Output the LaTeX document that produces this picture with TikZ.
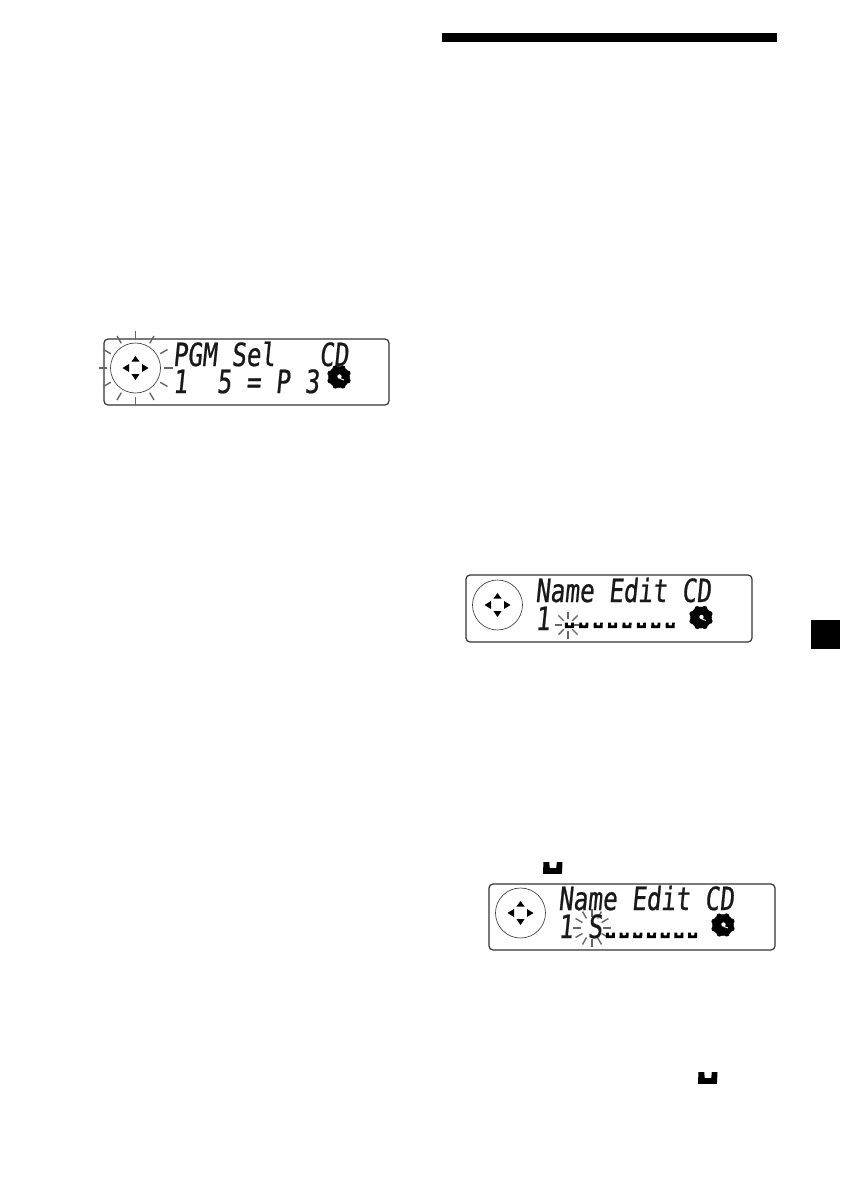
\documentclass[tikz,border=0pt]{standalone}
\usepackage{fontspec}
\newfontfamily\lcd[FakeSlant=0.1,FakeStretch=0.76,FakeBold=0.6]{DejaVu Sans Mono}
\newdimen\pxu \pxu=0.75pt
\tikzset{
  panel/.style={draw=black!80,line width=0.9pt,rounded corners=3pt},
  dial/.style={circle,draw=black!75,line width=0.5pt,minimum size=50\pxu,inner sep=0pt},
  lcdtext/.style={inner sep=0pt,anchor=base west,font=\lcd\fontsize{24}{24}\selectfont,text=black!90},
  ray/.style={draw=black!60,line width=1.05pt},
  arrowtip/.style={fill=black},
}
% dial with four arrow heads
\newcommand{\dialat}[2]{%
  \node[dial] at (#1,#2) {};
  \fill[arrowtip] (#1,#2-12) -- (#1+4,#2-6.5) -- (#1-4,#2-6.5) -- cycle;
  \fill[arrowtip] (#1,#2+12) -- (#1+4,#2+6) -- (#1-4,#2+6) -- cycle;
  \fill[arrowtip] (#1-13,#2) -- (#1-6.5,#2-4) -- (#1-6.5,#2+4) -- cycle;
  \fill[arrowtip] (#1+13,#2) -- (#1+6.5,#2-4) -- (#1+6.5,#2+4) -- cycle;
}
% compact disc glyph
\newcommand{\discat}[2]{%
  \foreach \a in {0,45,...,315}{\fill[black] (#1,#2)++(\a+22:9.5) circle (2.8);}
  \fill[black] (#1,#2) circle (10.8);
  \fill[white] (#1,#2) ++(0.5,-0.5) circle (2.2);
  \draw[white,line width=0.7pt] (#1+1,#2+1.5) -- (#1+5,#2+3);
}
% space glyph
\newcommand{\blankat}[3]{%
  \fill[black] (#1,#2) -- (#1+#3*0.3,#2) -- (#1+#3*0.33,#2+#3*0.32) -- (#1+#3*0.67,#2+#3*0.32) -- (#1+#3*0.7,#2) -- (#1+#3,#2) -- (#1+#3*0.97,#2+#3*0.62) -- (#1-#3*0.03,#2+#3*0.62) -- cycle;
}
% blinking rays: centre x, y, inner radius, outer radius, step
\newcommand{\raysat}[5]{%
  \foreach \a in {0,#5,...,359}{\draw[ray] (#1,#2)++(\a:#3) -- ++(\a:#4-#3);}
}
\begin{document}
\begin{tikzpicture}[x=0.75pt,y=-0.75pt]
\useasboundingbox (0,0) rectangle (840,1190);
\fill[white] (0,0) rectangle (840,1190);

\fill[black] (442,32.5) rectangle (777,42);
\fill[black] (811,620) rectangle (840,649);

% display 1
\draw[panel] (104,339) rectangle (389,405);
\raysat{135.5}{368}{28.5}{37}{30}
\dialat{135.5}{368}
\node[lcdtext] (pgm1) at (172.5,366) {PGM Sel\ \ \ CD};
\node[lcdtext] (pgm2) at (172.5,393) {1\ \ 5 = P 3};
\discat{339}{377}

% display 2
\draw[panel] (466,575) rectangle (752,642);
\dialat{497.5}{605}
\node[lcdtext] (name1) at (535,602) {Name Edit CD};
\node[lcdtext] (name2) at (535,630) {1};
\raysat{568}{625}{6}{13.5}{45}
\foreach \i in {0,...,7}{\blankat{\i*14.4+565}{622.5}{9}}
\discat{701}{617.5}

% display 3
\draw[panel] (489,884) rectangle (775,950);
\raysat{592}{928}{11}{19}{30}
\dialat{520.5}{913}
\node[lcdtext] (name3) at (558,910) {Name Edit CD};
\node[lcdtext] (name4) at (558,938) {1 S};
\foreach \i in {0,...,6}{\blankat{\i*13.7+606}{932.5}{9}}
\discat{723}{925}

% space symbols above
\blankat{543.5}{862}{19}
\blankat{698.5}{1072}{19}
\end{tikzpicture}
\end{document}
